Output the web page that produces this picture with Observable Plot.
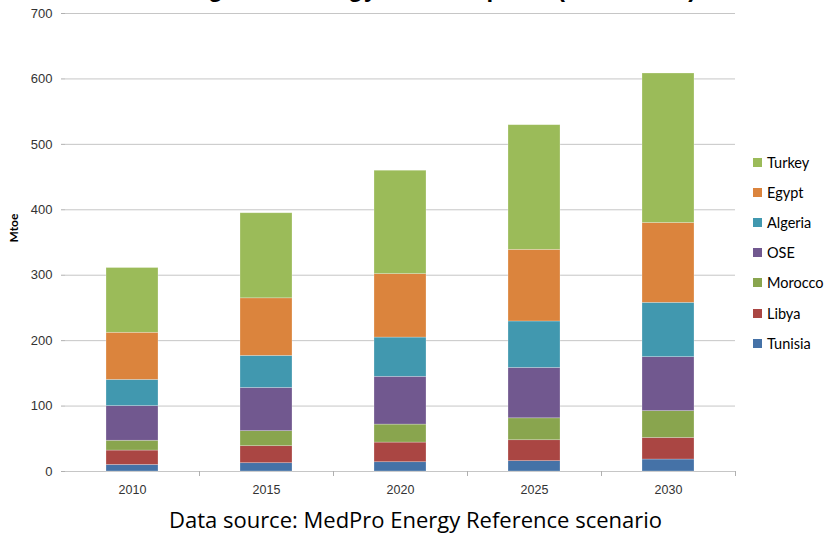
<!DOCTYPE html>
<html>
<head>
<meta charset="utf-8">
<script src="https://cdn.jsdelivr.net/npm/d3@7"></script>
<script src="https://cdn.jsdelivr.net/npm/@observablehq/plot@0.6"></script>
<style>
  html, body { margin: 0; padding: 0; background: #fff; width: 831px; height: 536px; overflow: hidden; }
  #wrap { position: relative; width: 831px; height: 536px; }
  #title { position: absolute; top: -23px; left: 0; width: 831px; text-align: center; padding-left: 42px; box-sizing: border-box;
           font: bold 24px/24px "Liberation Sans", Arial, sans-serif; letter-spacing: 0.85px; color: #000; white-space: nowrap; }
  #chart { position: absolute; top: 0; left: 0; }
  #legend { position: absolute; left: 753px; top: 147px; font: 14.5px Lato, "Open Sans", sans-serif; color: #000; }
  #legend .row { display: flex; align-items: center; height: 30.2px; }
  #legend .sw { width: 9px; height: 9px; margin-right: 5px; }
  #caption { position: absolute; top: 504px; left: 0; width: 831px; text-align: center; padding-left: 0px; box-sizing: border-box;
             font: 22px "Open Sans", Lato, sans-serif; color: #000; }
</style>
</head>
<body>
<div id="wrap">
  <div id="chart"></div>
  <div id="title"></div>
  <div id="legend"></div>
  <div id="caption"></div>
</div>
<script>
// ---- data (Mtoe) ----
const titleText = "Regional Energy Consumption (2010-2030)";
const captionText = "Data source: MedPro Energy Reference scenario";
const yLabel = "Mtoe";
const years = ["2010", "2015", "2020", "2025", "2030"];
const seriesNames = ["Tunisia", "Libya", "Morocco", "OSE", "Algeria", "Egypt", "Turkey"];
const seriesColors = ["#4572A7", "#AA4643", "#89A54E", "#71588F", "#4198AF", "#DB843D", "#9BBB59"];
const tunisia = [10, 12.7, 14.2, 15.8, 18.3];
const libya   = [22, 26, 30, 32, 33];
const morocco = [15, 23, 27.5, 33.5, 41];
const ose     = [53, 66, 73, 77, 82.5];
const algeria = [40, 49, 60, 71, 83];
const egypt   = [72, 88, 97, 109.5, 122];
const turkey  = [99, 130, 158, 190.5, 228.5];
const yTicks = [0, 100, 200, 300, 400, 500, 600, 700];

const seriesValues = [tunisia, libya, morocco, ose, algeria, egypt, turkey];
const rows = [];
seriesNames.forEach((name, si) => {
  years.forEach((yr, yi) => rows.push({year: yr, country: name, value: seriesValues[si][yi]}));
});

const chart = Plot.plot({
  width: 831,
  height: 500,
  marginLeft: 65,
  marginRight: 96,
  marginTop: 13,
  marginBottom: 29,
  style: {fontFamily: "'Liberation Sans', Arial, sans-serif", fontSize: "13px", color: "#333", background: "#fff"},
  x: {domain: years, paddingInner: 0.612, paddingOuter: 0.306, label: null},
  y: {domain: [0, 700], label: null},
  color: {domain: seriesNames, range: seriesColors},
  marks: [
    Plot.gridY(yTicks, {stroke: "#c6c6c6", strokeOpacity: 1, strokeWidth: 1}),
    Plot.barY(rows, {x: "year", y: "value", fill: "country", order: null, stroke: "#ffffff", strokeOpacity: 0.35, strokeWidth: 0.7}),
    Plot.axisY(yTicks, {tickSize: 4, tickPadding: 9, stroke: "#b0b0b0", line: true, label: null, fill: "#333", fontSize: 13}),
    Plot.axisX(years, {tickSize: 0, tickPadding: 14, label: null, fill: "#333", fontSize: 12.5}),
    Plot.ruleX(years, {x: d => d, y1: 0, y2: 0, dx: 67, insetBottom: -5, stroke: "#b0b0b0"}),
    Plot.text([yLabel], {frameAnchor: "left", dx: -51, rotate: -90, text: d => d, fontWeight: "bold", fontSize: 12, fill: "#000",
                         fontFamily: "Lato, 'Open Sans', sans-serif"})
  ]
});
document.getElementById("chart").appendChild(chart);

document.getElementById("title").textContent = titleText;
document.getElementById("caption").textContent = captionText;

const legend = document.getElementById("legend");
for (let i = seriesNames.length - 1; i >= 0; i--) {
  const row = document.createElement("div");
  row.className = "row";
  const sw = document.createElement("div");
  sw.className = "sw";
  sw.style.background = seriesColors[i];
  const lab = document.createElement("span");
  lab.textContent = seriesNames[i];
  row.appendChild(sw);
  row.appendChild(lab);
  legend.appendChild(row);
}
</script>
</body>
</html>
